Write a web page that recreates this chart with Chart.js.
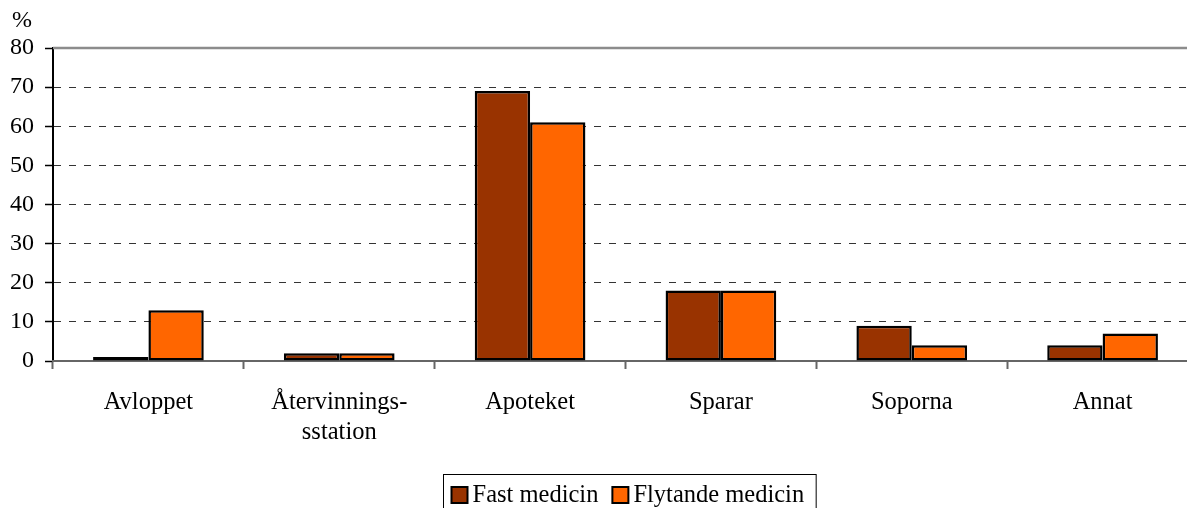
<!DOCTYPE html>
<html>
<head>
<meta charset="utf-8">
<script src="https://cdn.jsdelivr.net/npm/chart.js@4"></script>
<style>
    html, body { margin: 0; padding: 0; background: #fff; overflow: hidden; }
    #wrap { width: 1200px; height: 508px; }
</style>
</head>
<body>
<div id="wrap"><canvas id="chart" width="1200" height="508"></canvas></div>
<script>
// Chart data
const categories = ['Avloppet', ['Återvinnings-', 'sstation'], 'Apoteket', 'Sparar', 'Soporna', 'Annat'];
const fastMedicin = [1, 2, 69, 18, 9, 4];
const flytandeMedicin = [13, 2, 61, 18, 4, 7];
const seriesNames = ['Fast medicin', 'Flytande medicin'];
const seriesColors = ['#993300', '#FF6600'];
const yTicks = [0, 10, 20, 30, 40, 50, 60, 70, 80];

const FONT = '"Liberation Serif", "Times New Roman", serif';
const FONT_SIZE = 24.5;

// Draws the "%" unit, the solid top line and the boxed legend
const extrasPlugin = {
    id: 'extras',
    afterDraw(chart) {
        const ctx = chart.ctx;
        const area = chart.chartArea;
        ctx.save();

        // top line at 80
        ctx.strokeStyle = '#8c8c8c';
        ctx.lineWidth = 2.5;
        ctx.beginPath();
        ctx.moveTo(area.left, area.top);
        ctx.lineTo(chart.width, area.top);
        ctx.stroke();

        ctx.font = '24px ' + FONT;
        ctx.fillStyle = '#000';
        ctx.textBaseline = 'alphabetic';
        ctx.textAlign = 'left';
        ctx.fillText('%', 12, 27);

        // legend
        ctx.font = FONT_SIZE + 'px ' + FONT;
        const box = 16, gap = 5, spacing = 14, padL = 8, padR = 12;
        const widths = seriesNames.map(n => ctx.measureText(n).width);
        let total = padL + padR;
        widths.forEach((w, i) => { total += box + gap + w + (i > 0 ? spacing : 0); });
        const cx = 629;
        const left = Math.round(cx - total / 2) + 0.5;
        const top = 474.5;
        ctx.strokeStyle = '#000';
        ctx.lineWidth = 1;
        ctx.strokeRect(left, top, total, 60);
        let x = left + padL;
        seriesNames.forEach((name, i) => {
            ctx.fillStyle = seriesColors[i];
            ctx.fillRect(x, 487, box, box);
            ctx.lineWidth = 2;
            ctx.strokeStyle = '#000';
            ctx.strokeRect(x, 487, box, box);
            ctx.fillStyle = '#000';
            ctx.fillText(name, x + box + gap, 502);
            x += box + gap + widths[i] + spacing;
        });
        ctx.restore();
    }
};

new Chart(document.getElementById('chart'), {
    type: 'bar',
    data: {
        labels: categories,
        datasets: [
            {
                label: seriesNames[0],
                data: fastMedicin,
                backgroundColor: seriesColors[0],
                borderColor: '#000',
                borderWidth: 2.5,
                borderSkipped: false
            },
            {
                label: seriesNames[1],
                data: flytandeMedicin,
                backgroundColor: seriesColors[1],
                borderColor: '#000',
                borderWidth: 2.5,
                borderSkipped: false
            }
        ]
    },
    options: {
        responsive: false,
        animation: false,
        categoryPercentage: 0.58,
        barPercentage: 1.0,
        layout: {
            padding: { top: 48, left: 0, right: 2, bottom: 0 }
        },
        plugins: {
            legend: { display: false },
            tooltip: { enabled: false },
            title: { display: false }
        },
        scales: {
            y: {
                min: 0,
                max: 80,
                afterFit: function(scale) { scale.width = 53; },
                afterBuildTicks: function(scale) {
                    scale.ticks = yTicks.map(v => ({ value: v }));
                },
                ticks: {
                    color: '#000',
                    padding: 11,
                    font: { family: FONT, size: 24 }
                },
                grid: {
                    color: function(c) {
                        return (c.tick && (c.tick.value === 0 || c.tick.value === 80)) ? 'rgba(0,0,0,0)' : '#333';
                    },
                    lineWidth: 1,
                    tickColor: '#000',
                    tickLength: 8,
                    tickWidth: 1.5,
                    tickBorderDash: []
                },
                border: {
                    color: '#000',
                    width: 2,
                    dash: [7, 8]
                }
            },
            x: {
                afterFit: function(scale) { scale.height = 147; },
                ticks: {
                    color: '#000',
                    padding: 18,
                    maxRotation: 0,
                    autoSkip: false,
                    font: { family: FONT, size: FONT_SIZE, lineHeight: 1.25 }
                },
                grid: {
                    offset: true,
                    drawOnChartArea: false,
                    tickLength: 8,
                    tickColor: '#666',
                    tickWidth: 2
                },
                border: {
                    color: '#666',
                    width: 2
                }
            }
        }
    },
    plugins: [extrasPlugin]
});
</script>
</body>
</html>
